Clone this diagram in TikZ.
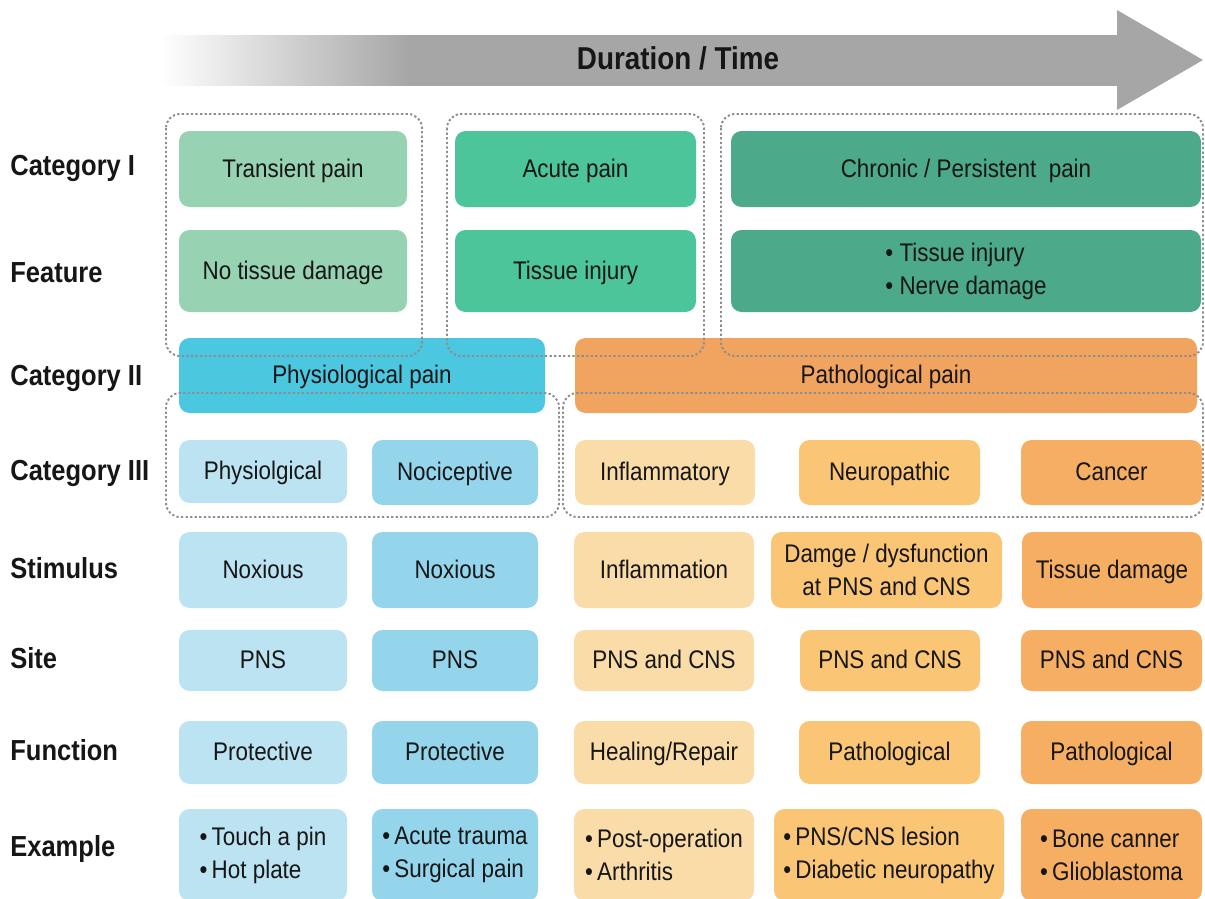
\documentclass[tikz,border=0pt]{standalone}
\usepackage{fontspec}
\setmainfont{Liberation Sans}[FakeStretch=0.88]

\definecolor{arrowgray}{HTML}{A6A6A6}
\definecolor{dotgray}{HTML}{8E8E8E}
\definecolor{txt}{HTML}{161616}
\definecolor{transient}{HTML}{97D2B3}
\definecolor{acute}{HTML}{4DC59B}
\definecolor{chronic}{HTML}{4CA98A}
\definecolor{physio}{HTML}{4CC7E0}
\definecolor{patho}{HTML}{F0A45F}
\definecolor{blueA}{HTML}{BCE3F1}
\definecolor{blueB}{HTML}{94D5EC}
\definecolor{orangeA}{HTML}{FADCA8}
\definecolor{orangeB}{HTML}{FAC675}
\definecolor{orangeC}{HTML}{F6AF62}

\pgfdeclarehorizontalshading{timeshade}{100bp}{color(0bp)=(white); color(25bp)=(white); color(38bp)=(arrowgray); color(100bp)=(arrowgray)}

\newcommand\cellfnt{\fontsize{14.5}{18.7}\selectfont}
\newcommand\labelfnt{\fontsize{16.5}{19}\selectfont\bfseries}
\newcommand\titlefnt{\fontsize{18}{21}\selectfont\bfseries}

\begin{document}
\begin{tikzpicture}[x=0.02cm,y=-0.02cm,
    wh/.style 2 args={minimum width=#1*0.02cm, minimum height=#2*0.02cm},
    cellml/.style={rounded corners=6pt, inner sep=0pt, align=center, text=txt, font=\cellfnt},
    cell/.style={cellml, text height=10.5pt, text depth=1pt},
    rowlabel/.style={anchor=west, inner sep=0pt, text=txt, font=\labelfnt, text height=11.5pt, text depth=0pt},
    group/.style={draw=dotgray, line width=1.1pt, dash pattern=on 1.3pt off 1.3pt, rounded corners=8pt}]
  \clip (0,0) rectangle (1205,899);

  % time arrow
  \shade[shading=timeshade] (160,35) rectangle (1118,85);
  \fill[arrowgray] (1117,10) -- (1203,60) -- (1117,110) -- cycle;
  \node[font=\titlefnt, text=txt] (time) at (678,58) {Duration / Time};

  % row labels
  \node[rowlabel] (lcat1)  at (10,165) {Category I};
  \node[rowlabel] (lfeat)  at (10,272) {Feature};
  \node[rowlabel] (lcat2)  at (10,375) {Category II};
  \node[rowlabel] (lcat3)  at (10,470) {Category III};
  \node[rowlabel] (lstim)  at (10,568) {Stimulus};
  \node[rowlabel] (lsite)  at (10,658) {Site};
  \node[rowlabel] (lfunc)  at (10,750) {Function};
  \node[rowlabel] (lexam)  at (10,846) {Example};

  % category I and feature
  \node[cell, fill=transient, wh={228}{76}] (transient) at (293,169)   {Transient pain};
  \node[cell, fill=acute,     wh={241}{76}] (acute)     at (575.5,169) {Acute pain};
  \node[cell, fill=chronic,   wh={470}{76}] (chronic)   at (966,169)   {Chronic / Persistent\ \ pain};
  \node[cell, fill=transient, wh={228}{82}] (notissue)  at (293,271)   {No tissue damage};
  \node[cell, fill=acute,     wh={241}{82}] (injury)    at (575.5,271) {Tissue injury};
  \node[cellml, fill=chronic, wh={470}{82}, align=left] (chronfeat) at (966,271)
       {\textbullet\ Tissue injury\\ \textbullet\ Nerve damage};

  % category II
  \node[cell, fill=physio, wh={366}{75}] (physpain) at (362,375.5) {Physiological pain};
  \node[cell, fill=patho,  wh={622}{75}] (pathpain) at (886,375.5) {Pathological pain};

  % category III
  \node[cell, fill=blueA,   wh={168}{63}] (physiol) at (263,471.5)    {Physiolgical};
  \node[cell, fill=blueB,   wh={166}{65}] (nocic)   at (455,472.5)    {Nociceptive};
  \node[cell, fill=orangeA, wh={180}{65}] (inflam)  at (665,472.5)    {Inflammatory};
  \node[cell, fill=orangeB, wh={181}{65}] (neuro)   at (889.5,472.5)  {Neuropathic};
  \node[cell, fill=orangeC, wh={181}{65}] (cancer)  at (1111.5,472.5) {Cancer};

  % stimulus
  \node[cell, fill=blueA,   wh={168}{76}] (stim1) at (263,570)    {Noxious};
  \node[cell, fill=blueB,   wh={166}{76}] (stim2) at (455,570)    {Noxious};
  \node[cell, fill=orangeA, wh={180}{76}] (stim3) at (664,570)    {Inflammation};
  \node[cellml, fill=orangeB, wh={231}{76}] (stim4) at (886.5,570) {Damge / dysfunction\\at PNS and CNS};
  \node[cell, fill=orangeC, wh={180}{76}] (stim5) at (1112,570)   {Tissue damage};

  % site
  \node[cell, fill=blueA,   wh={168}{61}] (site1) at (263,660.5)    {PNS};
  \node[cell, fill=blueB,   wh={166}{61}] (site2) at (455,660.5)    {PNS};
  \node[cell, fill=orangeA, wh={180}{61}] (site3) at (664,660.5)    {PNS and CNS};
  \node[cell, fill=orangeB, wh={180}{61}] (site4) at (890,660.5)    {PNS and CNS};
  \node[cell, fill=orangeC, wh={181}{61}] (site5) at (1111.5,660.5) {PNS and CNS};

  % function
  \node[cell, fill=blueA,   wh={168}{63}] (func1) at (263,752.5)    {Protective};
  \node[cell, fill=blueB,   wh={166}{63}] (func2) at (455,752.5)    {Protective};
  \node[cell, fill=orangeA, wh={180}{63}] (func3) at (664,752.5)    {Healing/Repair};
  \node[cell, fill=orangeB, wh={181}{63}] (func4) at (889.5,752.5)  {Pathological};
  \node[cell, fill=orangeC, wh={181}{63}] (func5) at (1111.5,752.5) {Pathological};

  % example
  \node[cellml, fill=blueA,   wh={168}{92}, align=left] (exam1) at (263,855)    {\textbullet\,Touch a pin\\\textbullet\,Hot plate};
  \node[cellml, fill=blueB,   wh={166}{92}, align=left] (exam2) at (455,855)    {\textbullet\,Acute trauma\\\textbullet\,Surgical pain};
  \node[cellml, fill=orangeA, wh={180}{92}, align=left] (exam3) at (664,855)    {\textbullet\,Post-operation\\\textbullet\,Arthritis};
  \node[cellml, fill=orangeB, wh={230}{92}, align=left] (exam4) at (889,855)    {\textbullet\,PNS/CNS lesion\\\textbullet\,Diabetic neuropathy};
  \node[cellml, fill=orangeC, wh={181}{92}, align=left] (exam5) at (1111.5,855) {\textbullet\,Bone canner\\\textbullet\,Glioblastoma};

  % dotted groups
  \draw[group] (166,114) rectangle (422,356);
  \draw[group] (447,114) rectangle (704,356);
  \draw[group] (721,114) rectangle (1203,356);
  \draw[group] (166,393) rectangle (559,517);
  \draw[group] (563,393) rectangle (1203,517);
\end{tikzpicture}
\end{document}
